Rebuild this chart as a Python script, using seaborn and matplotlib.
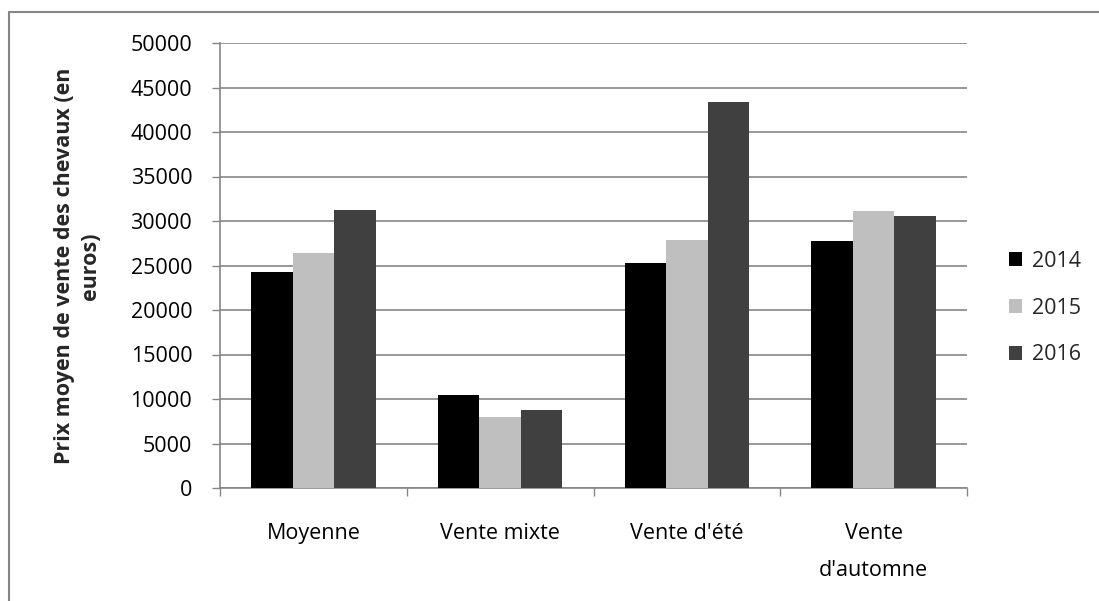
import numpy as np
import pandas as pd
import seaborn as sns
import matplotlib.pyplot as plt
from matplotlib.patches import Patch
from matplotlib.lines import Line2D
from matplotlib.ticker import FixedLocator

categories = ["Moyenne", "Vente mixte", "Vente d'été", "Vente\nd'automne"]
years = ["2014", "2015", "2016"]
prix_2014 = [24300, 10450, 25250, 27700]
prix_2015 = [26450, 7950, 27900, 31100]
prix_2016 = [31250, 8750, 43350, 30550]
colors = ["#000000", "#BFBFBF", "#404040"]

sns.set_style("white")
plt.rcParams['font.family'] = ['Open Sans', 'DejaVu Sans']

rows = []
for year, vals in zip(years, [prix_2014, prix_2015, prix_2016]):
    for cat, v in zip(categories, vals):
        rows.append({'categorie': cat, 'annee': year, 'prix': v})
df = pd.DataFrame(rows)

W, H = 1099, 601
fig = plt.figure(figsize=(W / 100, H / 100), dpi=100)
ax = fig.add_axes([220 / W, 113 / H, (967 - 220) / W, 445 / H])

grid_col = "#868686"
sns.barplot(data=df, x='categorie', y='prix', hue='annee', order=categories,
            hue_order=years, palette=colors, width=0.667, saturation=1,
            gap=0, edgecolor='none', linewidth=0, ax=ax, legend=False, zorder=3)

ax.set_ylim(0, 50000)
ax.set_xlim(-0.5, 3.5)
ax.set_yticks(np.arange(0, 50001, 5000))
ax.yaxis.grid(True, color=grid_col, linewidth=1.2, zorder=0)
ax.set_axisbelow(True)

fs = 15.5
ax.tick_params(axis='y', length=6, width=1, color=grid_col, pad=14,
               labelsize=fs, labelcolor='black', direction='out', left=True)
ax.tick_params(axis='x', which='major', length=0, pad=25, labelsize=fs,
               labelcolor='black')
for lab in ax.get_xticklabels():
    lab.set_linespacing(2.0)
ax.xaxis.set_minor_locator(FixedLocator([-0.5, 0.5, 1.5, 2.5, 3.5]))
ax.tick_params(axis='x', which='minor', length=6, width=1, color=grid_col,
               direction='out', bottom=True)
ax.set_xlabel('')
ax.set_ylabel('')

for s in ['top', 'right']:
    ax.spines[s].set_visible(False)
for s in ['left', 'bottom']:
    ax.spines[s].set_color(grid_col)
    ax.spines[s].set_linewidth(1.2)

fig.text(77.5 / W, 1 - 266 / H, "Prix moyen de vente des chevaux (en\neuros)",
         rotation=90, ha='center', va='center', multialignment='center',
         fontsize=fs, fontweight='bold', linespacing=1.3)

handles = [Patch(facecolor=c, edgecolor='none') for c in colors]
fig.legend(handles, years, loc='center left',
           bbox_to_anchor=(1009 / W, 1 - 308 / H), frameon=False,
           fontsize=fs, handlelength=0.62, handleheight=0.62,
           handletextpad=0.45, labelspacing=1.2, borderpad=0, borderaxespad=0)

# chart border (top and left edge visible)
fig.add_artist(Line2D([9 / W, 1], [1 - 12 / H, 1 - 12 / H], color=grid_col,
                      linewidth=1.5, transform=fig.transFigure))
fig.add_artist(Line2D([9 / W, 9 / W], [0, 1 - 12 / H], color=grid_col,
                      linewidth=1.5, transform=fig.transFigure))

fig.savefig("out.png", dpi=100)
